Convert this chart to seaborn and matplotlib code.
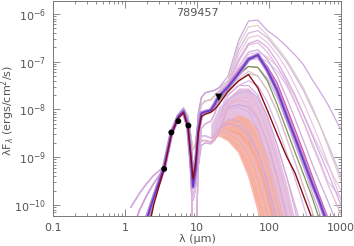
import numpy as np
import matplotlib
matplotlib.use("Agg")
import matplotlib.pyplot as plt
import seaborn as sns

# wavelength grid (micron) shared by all model curves
wl = [1.2, 1.6, 2.0, 2.5, 3.0, 3.5, 4.4, 5.5, 6.5, 7.5, 8.2, 8.8, 9.6, 10.4, 11.5, 13,
      15.5, 17.5, 20, 27, 38, 52, 70, 95, 130, 175, 230, 300, 400, 500, 650, 1000]

# log10(lambda F_lambda)
# highlighted models
best_purple = [-12, -10.8, -10.3, -9.85, -9.5, -9.2, -8.5, -8.15, -8.04, -8.35, -9.0, -9.62, -9.25, -8.45, -8.08, -8.05,
               -8.02, -7.9, -7.73, -7.53, -7.24, -6.95, -6.86, -7.18, -7.6, -8.13, -8.59, -9.06, -9.56, -9.92, -10.4, -11.5]
dark_red = [-12, -11.5, -10.7, -10.0, -9.58, -9.25, -8.53, -8.18, -8.07, -8.38, -8.95, -9.45, -9.1, -8.5, -8.15, -8.1,
            -8.06, -8.0, -7.9, -7.62, -7.4, -7.27, -7.55, -8.02, -8.52, -8.98, -9.33, -9.8, -10.3, -11.2, -12, -12]
olive = [-12, -11.4, -10.6, -9.95, -9.55, -9.22, -8.5, -8.16, -8.05, -8.36, -8.97, -9.5, -9.15, -8.48, -8.1, -8.06,
         -8.02, -7.95, -7.82, -7.55, -7.25, -7.1, -7.12, -7.4, -7.9, -8.42, -8.9, -9.35, -9.85, -10.3, -11, -12]
magenta = [-12, -11.0, -10.4, -9.9, -9.52, -9.21, -8.5, -8.15, -8.05, -8.36, -8.97, -9.55, -9.2, -8.46, -8.1, -8.06,
           -8.02, -7.88, -7.72, -7.48, -7.18, -6.92, -6.86, -7.1, -7.45, -7.95, -8.42, -8.88, -9.4, -9.8, -10.25, -11.2]

# the rest of the fitted models, in three pieces:
# near-IR (1.2-3.5 um), mid-IR (4.4-20 um), far-IR (27-1000 um)
nir_a = [-10.05, -9.75, -9.55, -9.38, -9.28, -9.2]
nir_b = [-10.6, -10.1, -9.8, -9.55, -9.38, -9.22]
nir_c = [-12, -10.7, -10.2, -9.8, -9.48, -9.22]
nir_d = [-12, -11.0, -10.4, -9.9, -9.5, -9.22]

mid_u = [-8.47, -8.1, -7.97, -8.2, -8.7, -9.2, -8.95, -8.1, -7.75, -7.65, -7.62, -7.6, -7.55]
mid_s = [-8.48, -8.12, -7.98, -8.15, -8.55, -8.85, -8.7, -8.2, -7.9, -7.82, -7.8, -7.72, -7.62]
mid_m = [-8.5, -8.15, -8.04, -8.35, -9.0, -9.62, -9.25, -8.45, -8.08, -8.05, -8.02, -7.9, -7.75]
mid_d = [-8.52, -8.18, -8.08, -8.45, -9.3, -10.6, -11, -9.2, -8.4, -8.3, -8.25, -8.1, -7.85]
mid_l = [-8.5, -8.16, -8.06, -8.4, -9.1, -9.9, -9.6, -8.8, -8.55, -8.55, -8.6, -8.5, -8.2]
mid_f = [-8.5, -8.16, -8.06, -8.4, -9.1, -9.9, -9.6, -8.8, -8.65, -8.65, -8.68, -8.6, -8.4]
mid_g = [-8.52, -8.18, -8.08, -8.45, -9.3, -10.6, -11, -9.2, -8.75, -8.7, -8.72, -8.65, -8.5]

far_top = [-7.3, -6.55, -6.15, -6.13, -6.35, -6.5, -6.68, -6.86, -7.06, -7.38, -7.6, -7.88, -8.43]
far_beige = [-7.4, -6.65, -6.27, -6.24, -6.45, -6.7, -6.95, -7.25, -7.55, -7.95, -8.3, -8.75, -9.5]
far_u1 = [-7.4, -6.75, -6.4, -6.35, -6.5, -6.75, -7.0, -7.3, -7.6, -8.0, -8.3, -8.7, -9.4]
far_u2 = [-7.45, -6.85, -6.5, -6.45, -6.6, -6.85, -7.15, -7.5, -7.85, -8.3, -8.65, -9.1, -9.9]
far_u3 = [-7.45, -6.95, -6.62, -6.55, -6.7, -7.0, -7.35, -7.7, -8.1, -8.55, -8.9, -9.3, -10.0]
far_u4 = [-7.5, -7.0, -6.65, -6.6, -6.8, -7.1, -7.45, -7.85, -8.25, -8.75, -9.1, -9.55, -10.2]
far_u5 = [-7.5, -7.1, -6.85, -6.8, -6.9, -7.1, -7.4, -7.75, -8.1, -8.5, -8.8, -9.15, -9.7]
far_u6 = [-7.5, -7.1, -6.8, -6.75, -6.95, -7.3, -7.75, -8.2, -8.65, -9.15, -9.5, -9.9, -10.6]
far_u7 = [-7.55, -7.2, -6.95, -6.9, -7.0, -7.2, -7.5, -7.85, -8.25, -8.7, -9.05, -9.5, -9.85]
far_c1 = [-7.55, -7.15, -6.95, -6.95, -7.15, -7.55, -8.0, -8.5, -8.95, -9.5, -9.9, -10.4, -11.5]
far_c2 = [-7.6, -7.3, -7.1, -7.12, -7.35, -7.75, -8.25, -8.75, -9.2, -9.75, -10.15, -10.7, -12]
far_c3 = [-7.6, -7.35, -7.2, -7.3, -7.6, -8.05, -8.6, -9.1, -9.6, -10.15, -10.6, -11.2, -12]
far_c4 = [-7.65, -7.4, -7.25, -7.3, -7.6, -8.05, -8.6, -9.1, -9.6, -10.15, -10.6, -11.2, -12]
far_l1 = [-7.7, -7.5, -7.4, -7.5, -7.85, -8.35, -8.9, -9.45, -10.0, -10.6, -11.2, -12, -12]
far_l2 = [-7.7, -7.5, -7.5, -7.7, -8.15, -8.75, -9.4, -10.1, -11.0, -12, -12, -12, -12]
far_l3 = [-7.8, -7.6, -7.65, -7.9, -8.45, -9.1, -9.8, -10.6, -12, -12, -12, -12, -12]
far_l4 = [-7.8, -7.65, -7.6, -7.75, -8.15, -8.75, -9.4, -10.0, -10.6, -11.3, -12, -12, -12]
far_l5 = [-7.9, -7.8, -7.85, -8.15, -8.75, -9.5, -10.3, -11.2, -12, -12, -12, -12, -12]
far_l6 = [-8.0, -7.95, -8.05, -8.4, -9.1, -9.9, -10.8, -12, -12, -12, -12, -12, -12]
far_l7 = [-8.2, -8.25, -8.45, -8.9, -9.6, -10.5, -12, -12, -12, -12, -12, -12, -12]
far_l8 = [-7.85, -7.75, -7.75, -7.95, -8.4, -9.05, -9.75, -10.5, -12, -12, -12, -12, -12]
far_l9 = [-7.95, -7.9, -7.95, -8.2, -8.7, -9.4, -10.2, -12, -12, -12, -12, -12, -12]
far_l10 = [-8.1, -8.1, -8.2, -8.5, -9.05, -9.8, -10.7, -12, -12, -12, -12, -12, -12]
far_l11 = [-8.3, -8.35, -8.55, -8.9, -9.5, -10.35, -12, -12, -12, -12, -12, -12, -12]
far_l12 = [-8.45, -8.6, -8.85, -9.3, -10.0, -11.0, -12, -12, -12, -12, -12, -12, -12]

# shaded envelopes of the crowded far-IR models (15.5-1000 um)
lav_hi = [-8.3, -8.15, -7.95, -7.75, -7.55, -7.55, -7.75, -8.2, -8.85, -9.55, -10.3, -11.2, -12, -12, -12, -12]
sal_hi = [-8.6, -8.5, -8.4, -8.25, -8.15, -8.2, -8.45, -9.0, -9.75, -10.6, -11.5, -12, -12, -12, -12, -12]
sal_lo = [-8.6, -8.6, -8.55, -8.65, -8.9, -9.4, -10.1, -11.0, -12, -12, -12, -12, -12, -12, -12, -12]
sal_mid1 = [-8.6, -8.55, -8.45, -8.35, -8.3, -8.45, -8.75, -9.35, -10.2, -11.2, -12, -12, -12, -12, -12, -12]
sal_mid2 = [-8.6, -8.55, -8.5, -8.45, -8.5, -8.7, -9.1, -9.75, -10.7, -12, -12, -12, -12, -12, -12, -12]
sal_mid3 = [-8.6, -8.6, -8.52, -8.55, -8.7, -9.05, -9.6, -10.4, -11.5, -12, -12, -12, -12, -12, -12, -12]

# observed photometry
obs_wl = [3.5, 4.4, 5.5, 7.6]
obs_flux = [5.7e-10, 3.3e-9, 5.7e-9, 4.6e-9]
lim_wl = [20.1]
lim_flux = [1.8e-8]


def flux(logf):
    return 10 ** np.array(logf)


sns.set_style("ticks")
plt.rcParams["font.family"] = ["DejaVu Sans"]
grey = "#555555"

fig = plt.figure(figsize=(3.54, 2.46), dpi=100)
ax = fig.add_axes([53 / 354, 1 - 216 / 246, 288 / 354, 215 / 246])

wl_env = wl[16:]
ax.fill_between(wl_env, flux(lav_hi), flux(sal_hi), color="#e6c2e2", lw=0)
ax.fill_between(wl_env, flux(sal_hi), flux(sal_lo), color="#f6b0a2", lw=0)
for s, c in zip([sal_hi, sal_mid1, sal_mid2, sal_mid3, sal_lo],
                ["#f3a89c", "#f4b4b0", "#f2a494", "#f6b8ae", "#f8bcb0"]):
    sns.lineplot(x=wl_env, y=flux(s), color=c, lw=1.0, ax=ax)

models = [
    (nir_d, mid_g, far_l12, "#e6bcd4"), (nir_c, mid_f, far_l11, "#d2a8de"),
    (nir_d, mid_f, far_l10, "#efbccc"), (nir_c, mid_g, far_l9, "#cfa6dc"),
    (nir_b, mid_f, far_l8, "#eab8d4"),
    (nir_d, mid_f, far_l7, "#d8acd8"), (nir_c, mid_l, far_l6, "#d8b4e0"),
    (nir_b, mid_f, far_l5, "#eab4c8"), (nir_d, mid_l, far_l4, "#d0b0dc"),
    (nir_c, mid_l, far_l3, "#e4b8e0"), (nir_a, mid_m, far_l2, "#d6a8dc"),
    (nir_b, mid_l, far_l1, "#d4b2e4"), (nir_c, mid_s, far_c4, "#c3cbae"),
    (nir_a, mid_d, far_c3, "#e2bcd8"), (nir_c, mid_d, far_c2, "#c9aedd"),
    (nir_b, mid_m, far_c1, "#eebad0"), (nir_a, mid_l, far_u7, "#dcc2ea"),
    (nir_c, mid_s, far_u6, "#c8a4d8"), (nir_b, mid_u, far_u5, "#e6c4e4"),
    (nir_b, mid_d, far_u4, "#e3b2d6"), (nir_a, mid_m, far_u3, "#d0a6e0"),
    (nir_c, mid_s, far_u2, "#e8c0d8"), (nir_a, mid_u, far_u1, "#d2b0e2"),
    (nir_c, mid_s, far_beige, "#d9cbc2"), (nir_b, mid_u, far_top, "#c6a0dc"),
]
for nir, mid, far, c in models:
    sns.lineplot(x=wl, y=flux(nir + mid + far), color=c, lw=0.9, alpha=0.9, ax=ax)

sns.lineplot(x=wl, y=flux(olive), color="#7c9450", lw=0.9, ax=ax)
sns.lineplot(x=wl, y=flux(magenta), color="#d84ca8", lw=0.9, ax=ax)
sns.lineplot(x=wl, y=flux(best_purple), color="#b48ad8", lw=3.0, ax=ax)
sns.lineplot(x=wl, y=flux(best_purple), color="#6a3cc4", lw=1.3, ax=ax)
sns.lineplot(x=wl, y=flux(dark_red), color="#8a0a14", lw=1.0, ax=ax)

sns.scatterplot(x=obs_wl, y=obs_flux, color="black", s=18, edgecolor="none", ax=ax, zorder=5)
sns.scatterplot(x=lim_wl, y=lim_flux, color="black", marker="v", s=28, edgecolor="none", ax=ax, zorder=5)

ax.set_xscale("log")
ax.set_yscale("log")
ax.set_xlim(0.1, 1000)
ax.set_ylim(10 ** -10.23, 10 ** -5.73)
ax.set_xticks([0.1, 1, 10, 100, 1000], labels=["0.1", "1", "10", "100", "1000"])
ax.set_yticks([1e-10, 1e-9, 1e-8, 1e-7, 1e-6],
              labels=[r"10$^{-10}$", r"10$^{-9}$", r"10$^{-8}$", r"10$^{-7}$", r"10$^{-6}$"])
ax.tick_params(which="both", direction="in", top=True, right=True, color="#777777",
               labelcolor=grey, labelsize=8, width=0.6)
ax.tick_params(which="major", length=5, pad=5)
ax.tick_params(which="minor", length=2.5)
for sp in ax.spines.values():
    sp.set_color("#777777")
    sp.set_linewidth(0.7)

fig.text(197 / 354, 1 - 13 / 246, "789457", ha="center", va="center", fontsize=8, color=grey)
fig.text(197 / 354, 1 - 239 / 246, "λ (μm)", ha="center", va="center", fontsize=8, color=grey)
fig.text(8 / 354, 1 - 110 / 246, r"λF$_\lambda$ (ergs/cm$^2$/s)", ha="center", va="center",
         rotation=90, fontsize=8, color=grey)

fig.savefig("out.png", dpi=100)
